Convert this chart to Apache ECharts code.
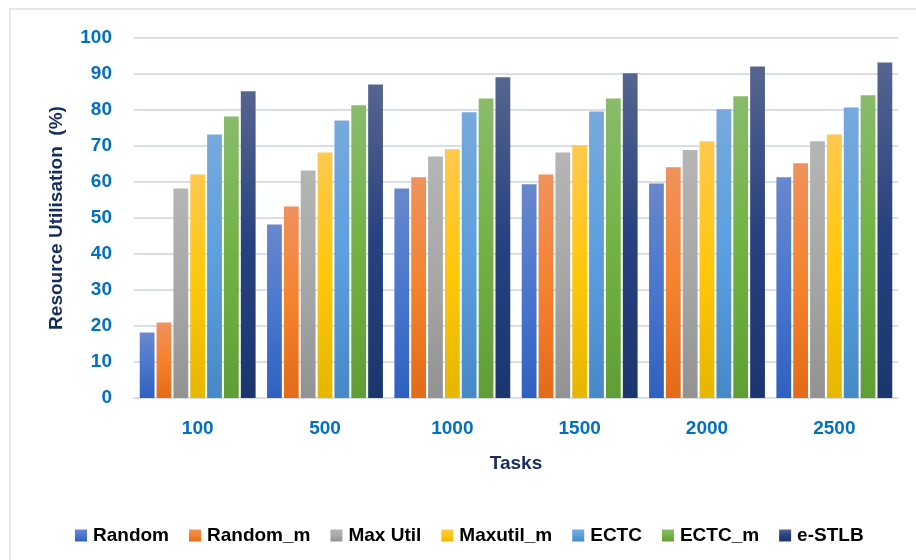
<!DOCTYPE html>
<html>
<head>
<meta charset="utf-8">
<script src="https://cdn.jsdelivr.net/npm/echarts@6/dist/echarts.min.js"></script>
<style>
  html, body { margin: 0; padding: 0; background: #fff; }
  #chart { width: 916px; height: 560px; }
</style>
</head>
<body>
<div id="chart"></div>
<script>
// data
var tasks = ['100', '500', '1000', '1500', '2000', '2500']
var seriesNames = ['Random', 'Random_m', 'Max Util', 'Maxutil_m', 'ECTC', 'ECTC_m', 'e-STLB']
var random = [18.2, 48.2, 58.2, 59.4, 59.6, 61.3]
var randomM = [21.0, 53.2, 61.3, 62.1, 64.1, 65.2]
var maxUtil = [58.2, 63.2, 67.1, 68.2, 68.9, 71.3]
var maxUtilM = [62.1, 68.2, 69.1, 70.2, 71.3, 73.2]
var ectc = [73.2, 77.1, 79.4, 79.6, 80.2, 80.7]
var ectcM = [78.2, 81.3, 83.2, 83.2, 83.8, 84.1]
var eStlb = [85.2, 87.1, 89.1, 90.2, 92.1, 93.2]
var yTicks = [0, 10, 20, 30, 40, 50, 60, 70, 80, 90, 100]

var allValues = [random, randomM, maxUtil, maxUtilM, ectc, ectcM, eStlb]

// top / middle / bottom colour of each bar gradient
var gradients = [
  ['#6987cc', '#4a76cf', '#2e61be'],
  ['#f0915e', '#f5822f', '#e36a18'],
  ['#b5b5b5', '#a7a7a7', '#929292'],
  ['#ffc84f', '#ffc70a', '#e6b600'],
  ['#77a9dd', '#5b9fdf', '#4589c7'],
  ['#89bb6b', '#72b244', '#5f9e35'],
  ['#56658f', '#284180', '#1b366f']
]

var chart = echarts.init(document.getElementById('chart'))

var series = seriesNames.map(function (name, i) {
  var g = gradients[i]
  return {
    name: name,
    type: 'bar',
    data: allValues[i],
    barGap: '14%',
    barCategoryGap: '9%',
    itemStyle: {
      color: new echarts.graphic.LinearGradient(0, 0, 0, 1, [
        { offset: 0, color: g[0] },
        { offset: 0.5, color: g[1] },
        { offset: 1, color: g[2] }
      ])
    }
  }
})

var option = {
  animation: false,
  backgroundColor: '#fff',
  textStyle: { fontFamily: 'Liberation Sans' },
  graphic: [
    {
      type: 'rect',
      shape: { x: 10, y: 9, width: 920, height: 560 },
      style: { fill: 'none', stroke: '#dce2ea', lineWidth: 1.5 },
      silent: true
    }
  ],
  legend: {
    data: seriesNames,
    left: 70,
    top: 521,
    icon: 'rect',
    itemWidth: 12,
    itemHeight: 12,
    itemGap: 20,
    textStyle: { color: '#000', fontSize: 19, fontWeight: 'bold', fontFamily: 'Liberation Sans', padding: [0, 0, 0, 1] }
  },
  grid: { left: 134, right: 18, top: 38, bottom: 162 },
  xAxis: {
    type: 'category',
    data: tasks,
    name: 'Tasks',
    nameLocation: 'middle',
    nameGap: 56,
    nameTextStyle: { color: '#172b5e', fontSize: 19, fontWeight: 'bold' },
    axisLine: { lineStyle: { color: '#dadfe7', width: 2 } },
    axisTick: { show: false },
    axisLabel: { color: '#0070c0', fontSize: 19, fontWeight: 'bold', margin: 21 }
  },
  yAxis: {
    type: 'value',
    min: yTicks[0],
    max: yTicks[yTicks.length - 1],
    interval: 10,
    name: 'Resource Utilisation  (%)',
    nameLocation: 'middle',
    nameGap: 68,
    nameTextStyle: { color: '#172b5e', fontSize: 19, fontWeight: 'bold' },
    axisLine: { show: false },
    axisTick: { show: false },
    splitLine: { lineStyle: { color: '#dadfe7', width: 2 } },
    axisLabel: { color: '#0070c0', fontSize: 19, fontWeight: 'bold', margin: 22 }
  },
  series: series
}

chart.setOption(option)
</script>
</body>
</html>
